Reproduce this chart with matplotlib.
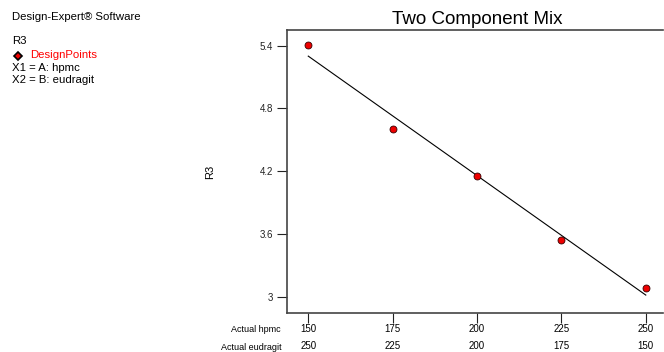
import numpy as np
import matplotlib
matplotlib.use("Agg")
import matplotlib.pyplot as plt
from matplotlib.lines import Line2D

plt.rcParams['font.family'] = ['Liberation Sans', 'DejaVu Sans']

hpmc = [150, 175, 200, 225, 250]
eudragit = [250, 225, 200, 175, 150]
r3 = [5.41, 4.60, 4.155, 3.54, 3.084]
yticks = [3, 3.6, 4.2, 4.8, 5.4]
ytick_labels = ["3", "3.6", "4.2", "4.8", "5.4"]

W, H = 664, 352
fig = plt.figure(figsize=(W / 100, H / 100), dpi=100)
ax = fig.add_axes([287 / W, 1 - 313 / H, (663 - 287) / W, (313 - 30) / H])

coef = np.polyfit(hpmc, r3, 1)
xs = np.array([hpmc[0], hpmc[-1]])
ax.plot(xs, np.polyval(coef, xs), color='black', lw=0.8)
ax.plot(hpmc, r3, 'o', color='#ee0000', markeredgecolor='#330000',
        markeredgewidth=0.6, markersize=5, zorder=3)

ax.set_xlim(143.7, 255.1)
ax.set_ylim(2.844, 5.55)
ax.set_yticks(yticks)
ax.set_yticklabels(ytick_labels, fontsize=7)
ax.set_xticks(hpmc)
ax.set_xticklabels([""] * len(hpmc))
ax.tick_params(axis='both', direction='out', length=7, width=0.8, colors='#222222', labelsize=7, pad=3)
for s in ['left', 'bottom', 'top']:
    ax.spines[s].set_color('#444444')
    ax.spines[s].set_linewidth(1.2)
ax.spines['right'].set_visible(False)

# two-row x labels
for xv, a, b in zip(hpmc, hpmc, eudragit):
    ax.text(xv, -0.055, str(a), transform=ax.get_xaxis_transform(), ha='center', va='center', fontsize=7)
    ax.text(xv, -0.118, str(b), transform=ax.get_xaxis_transform(), ha='center', va='center', fontsize=7)
fig.text(281 / W, 1 - 329 / H, "Actual hpmc", ha='right', va='center', fontsize=6.5)
fig.text(282 / W, 1 - 347 / H, "Actual eudragit", ha='right', va='center', fontsize=6.5)

ax.set_ylabel("R3", fontsize=8)
ax.yaxis.set_label_coords((210 - 287) / (663 - 287), 0.5)
ax.yaxis.label.set_va('center')

fig.text(477 / W, 1 - 19 / H, "Two Component Mix", ha='center', va='center', fontsize=13.5)

fs = 8.2
fig.text(12 / W, 1 - 17 / H, "Design-Expert® Software", ha='left', va='center', fontsize=fs)
fig.text(12 / W, 1 - 41 / H, "R3", ha='left', va='center', fontsize=fs)
fig.add_artist(Line2D([18 / W], [1 - 56 / H], marker='D', markersize=4,
                      markerfacecolor='#ee0000', markeredgecolor='black',
                      markeredgewidth=1.2, transform=fig.transFigure))
fig.text(30 / W, 1 - 55 / H, "DesignPoints", ha='left', va='center', fontsize=fs, color='#ff0000')
fig.text(12 / W, 1 - 68 / H, "X1 = A: hpmc", ha='left', va='center', fontsize=fs)
fig.text(12 / W, 1 - 80 / H, "X2 = B: eudragit", ha='left', va='center', fontsize=fs)

fig.savefig("out.png", dpi=100)
